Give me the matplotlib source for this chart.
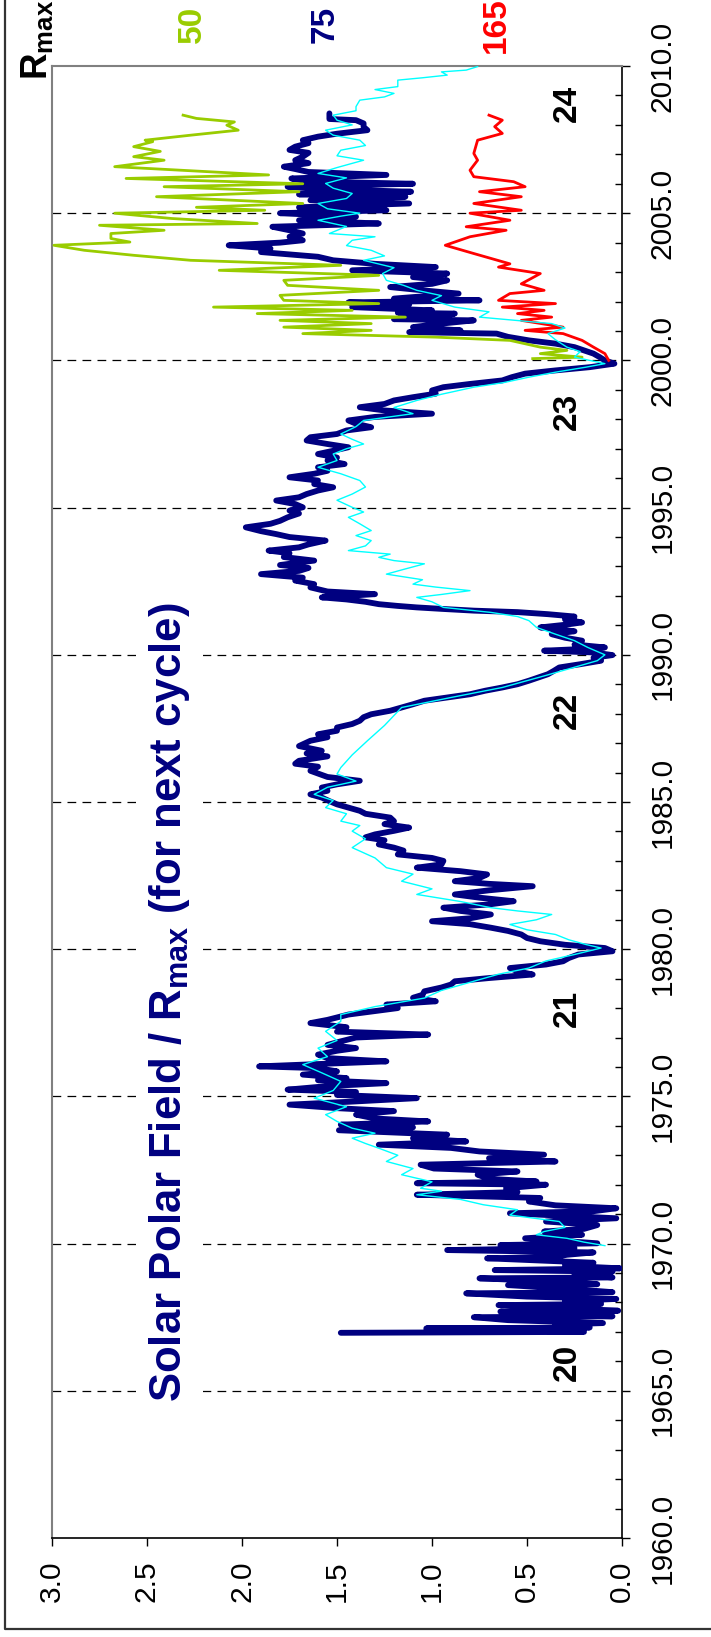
import matplotlib
matplotlib.use('Agg')
import matplotlib.pyplot as plt
from matplotlib.lines import Line2D

plt.rcParams['font.family'] = ['Liberation Sans', 'DejaVu Sans']
plt.rcParams['mathtext.fontset'] = 'custom'
plt.rcParams['mathtext.rm'] = 'Liberation Sans'
plt.rcParams['mathtext.bf'] = 'Liberation Sans:bold'
plt.rcParams['mathtext.it'] = 'Liberation Sans:italic'

# ---------------- data ----------------
navy_year = [1966.97, 1967.00, 1967.05, 1967.10, 1967.12, 1967.15, 1967.25, 1967.30, 1967.40, 1967.50,
             1967.53, 1967.60, 1967.69, 1967.72, 1967.80, 1967.91, 1967.95, 1968.05, 1968.12, 1968.20,
             1968.31, 1968.35, 1968.45, 1968.59, 1968.62, 1968.70, 1968.82, 1968.85, 1968.95, 1969.05,
             1969.10, 1969.16, 1969.25, 1969.35, 1969.50, 1969.55, 1969.62, 1969.70, 1969.78, 1969.85,
             1969.95, 1970.01,
             1970.18, 1970.30, 1970.41, 1970.50, 1970.63, 1970.75, 1970.86, 1971.03, 1971.10, 1971.20,
             1971.30, 1971.43, 1971.55, 1971.66, 1971.75, 1971.88, 1972.00, 1972.05, 1972.11, 1972.20,
             1972.34, 1972.45, 1972.55, 1972.68, 1972.79, 1972.90, 1973.02, 1973.13, 1973.25, 1973.36,
             1973.47, 1973.58, 1973.70, 1973.85, 1973.95, 1974.04, 1974.15, 1974.25, 1974.38, 1974.50,
             1974.60, 1974.72, 1974.83, 1974.94, 1975.05, 1975.15, 1975.23, 1975.35, 1975.45, 1975.55,
             1975.62, 1975.74, 1975.85, 1975.96, 1976.02, 1976.10, 1976.19, 1976.30, 1976.42, 1976.55,
             1976.64, 1976.75, 1976.87, 1977.00, 1977.10, 1977.20, 1977.35, 1977.49,
             1977.60, 1977.78, 1977.90, 1978.00, 1978.12, 1978.23, 1978.35, 1978.45, 1978.57, 1978.70,
             1978.80, 1978.91, 1979.02, 1979.14, 1979.25, 1979.36, 1979.48, 1979.59, 1979.70, 1979.82,
             1979.93, 1980.04, 1980.15, 1980.27, 1980.38, 1980.50, 1980.62, 1980.73, 1980.85, 1980.95,
             1981.05, 1981.18, 1981.30, 1981.41, 1981.52, 1981.63, 1981.75, 1981.86, 1982.00, 1982.14,
             1982.22, 1982.31, 1982.42, 1982.54, 1982.65, 1982.77, 1982.88, 1983.00, 1983.10, 1983.22,
             1983.35, 1983.45, 1983.56, 1983.70, 1983.80, 1983.90, 1984.02, 1984.13, 1984.25, 1984.35,
             1984.47, 1984.60, 1984.70, 1984.81, 1984.92, 1985.03, 1985.15, 1985.26, 1985.38, 1985.49,
             1985.60, 1985.72,
             1985.85, 1986.06, 1986.20, 1986.30, 1986.40, 1986.55, 1986.65, 1986.74, 1986.90, 1987.08,
             1987.20, 1987.30, 1987.42, 1987.53, 1987.65, 1987.76, 1987.88, 1987.98, 1988.10, 1988.21,
             1988.32, 1988.44, 1988.55, 1988.66, 1988.78, 1988.89, 1989.00, 1989.12, 1989.23, 1989.34,
             1989.45, 1989.57, 1989.68, 1989.80, 1989.90, 1989.99, 1990.08, 1990.14, 1990.20, 1990.25,
             1990.35, 1990.48, 1990.58, 1990.70, 1990.80, 1990.93, 1991.02, 1991.10, 1991.20, 1991.30,
             1991.38, 1991.45, 1991.50, 1991.56, 1991.61, 1991.66, 1991.72, 1991.80, 1991.88, 1991.95,
             1992.06, 1992.15, 1992.29, 1992.40, 1992.52, 1992.62, 1992.74, 1992.85, 1992.95, 1993.05,
             1993.20, 1993.32, 1993.45, 1993.54, 1993.65, 1993.75, 1993.88,
             1994.00, 1994.10, 1994.20, 1994.33, 1994.45, 1994.55, 1994.67, 1994.80, 1994.90, 1995.01,
             1995.12, 1995.24, 1995.35, 1995.46, 1995.58, 1995.69, 1995.80, 1995.92, 1996.03, 1996.15,
             1996.25, 1996.37, 1996.48, 1996.60, 1996.70, 1996.82, 1996.93, 1997.05, 1997.16, 1997.28,
             1997.39, 1997.50, 1997.62, 1997.73, 1997.85, 1997.96, 1998.08, 1998.19, 1998.30, 1998.41,
             1998.52, 1998.64, 1998.75, 1998.87, 1998.98, 1999.09, 1999.20, 1999.32, 1999.43, 1999.55,
             1999.66, 1999.77, 1999.89, 2000.00, 2000.12, 2000.23, 2000.34, 2000.45, 2000.57, 2000.68,
             2000.80, 2000.91, 2000.96, 2001.02, 2001.13, 2001.25, 2001.36, 2001.40, 2001.50, 2001.59,
             2001.62, 2001.70, 2001.81, 2001.90, 2001.97, 2002.04,
             2002.10, 2002.27, 2002.38, 2002.49, 2002.60, 2002.72, 2002.83, 2002.95, 2003.06, 2003.17,
             2003.28, 2003.40, 2003.52, 2003.68, 2003.80, 2003.91, 2004.00, 2004.08, 2004.20, 2004.31,
             2004.42, 2004.54, 2004.65, 2004.76, 2004.88, 2005.00, 2005.10, 2005.20, 2005.33, 2005.44,
             2005.56, 2005.64, 2005.73, 2005.82, 2005.90, 2006.00, 2006.08, 2006.18, 2006.30, 2006.40,
             2006.50, 2006.58, 2006.70, 2006.80, 2006.92, 2007.05, 2007.15, 2007.26, 2007.38, 2007.48,
             2007.60, 2007.70, 2007.82, 2007.93, 2008.05, 2008.16, 2008.20, 2008.39]
navy_val = [1.48, 0.20, 0.55, 0.25, 1.03, 0.17, 0.35, 0.10, 0.60, 0.78,
            0.05, 0.45, 0.64, 0.02, 0.30, 0.65, 0.11, 0.30, 0.03, 0.50,
            0.82, 0.05, 0.25, 0.60, 0.13, 0.30, 0.75, 0.05, 0.25, 0.05,
            0.67, 0.01, 0.30, 0.15, 0.71, 0.35, 0.29, 0.15, 0.92, 0.25,
            0.64, 0.13,
            0.51, 0.21, 0.41, 0.20, 0.13, 0.40, 0.03, 0.59, 0.15, 0.03,
            0.35, 0.49, 0.43, 1.08, 0.55, 0.61, 0.40, 1.08, 0.45, 0.70,
            0.76, 0.55, 0.99, 1.06, 0.35, 0.70, 0.41, 0.75, 0.90, 1.28,
            0.82, 1.10, 0.92, 1.49, 1.10, 1.48, 1.02, 1.30, 1.40, 1.20,
            1.50, 1.75, 1.40, 1.08, 1.50, 1.40, 1.76, 1.55, 1.24, 1.60,
            1.45, 1.68, 1.50, 1.60, 1.91, 1.60, 1.24, 1.55, 1.60, 1.50,
            1.40, 1.55, 1.48, 1.40, 1.02, 1.50, 1.45, 1.64,
            1.55, 1.44, 1.30, 1.18, 1.24, 0.98, 1.10, 1.05, 1.04, 0.95,
            0.90, 0.88, 0.70, 0.47, 0.55, 0.59, 0.40, 0.31, 0.28, 0.23,
            0.05, 0.09, 0.30, 0.43, 0.50, 0.53, 0.60, 0.69, 0.80, 1.00,
            0.80, 0.69, 0.85, 0.94, 0.70, 0.57, 0.75, 0.88, 0.70, 0.47,
            0.70, 0.88, 0.75, 0.71, 0.85, 1.08, 0.95, 0.94, 1.00, 1.18,
            1.15, 1.20, 1.28, 1.25, 1.35, 1.30, 1.20, 1.12, 1.25, 1.20,
            1.22, 1.35, 1.38, 1.44, 1.50, 1.54, 1.58, 1.64, 1.55, 1.58,
            1.50, 1.38,
            1.55, 1.64, 1.60, 1.72, 1.70, 1.55, 1.66, 1.58, 1.70, 1.64,
            1.55, 1.60, 1.50, 1.50, 1.42, 1.38, 1.36, 1.32, 1.22, 1.16,
            1.10, 1.04, 0.92, 0.80, 0.72, 0.63, 0.55, 0.49, 0.44, 0.39,
            0.36, 0.33, 0.22, 0.11, 0.15, 0.05, 0.15, 0.41, 0.20, 0.09,
            0.25, 0.21, 0.30, 0.37, 0.25, 0.43, 0.30, 0.21, 0.30, 0.25,
            0.39, 0.55, 0.78, 0.95, 1.08, 1.18, 1.28, 1.35, 1.45, 1.58,
            1.30, 1.55, 1.64, 1.62, 1.72, 1.68, 1.90, 1.70, 1.65, 1.80,
            1.62, 1.78, 1.75, 1.86, 1.70, 1.65, 1.56,
            1.75, 1.82, 1.90, 1.98, 1.85, 1.80, 1.76, 1.70, 1.75, 1.68,
            1.72, 1.82, 1.70, 1.66, 1.60, 1.52, 1.62, 1.60, 1.75, 1.62,
            1.55, 1.60, 1.46, 1.55, 1.50, 1.60, 1.52, 1.44, 1.55, 1.66,
            1.64, 1.50, 1.45, 1.32, 1.40, 1.44, 1.30, 1.00, 1.25, 1.38,
            1.25, 1.20, 1.10, 0.98, 1.00, 0.94, 0.80, 0.63, 0.58, 0.51,
            0.35, 0.17, 0.04, 0.09, 0.12, 0.15, 0.20, 0.25, 0.35, 0.49,
            0.60, 0.66, 1.12, 0.85, 1.10, 0.95, 0.78, 1.20, 0.95, 0.88,
            1.18, 1.00, 1.42, 1.12, 1.44, 0.75,
            1.20, 0.86, 1.05, 1.22, 1.00, 0.92, 1.10, 0.92, 1.42, 0.98,
            1.30, 1.52, 1.60, 1.90, 1.85, 2.07, 1.80, 1.68, 1.75, 1.68,
            1.75, 1.84, 1.28, 1.70, 1.40, 1.80, 1.24, 1.70, 1.12, 1.64,
            1.14, 1.70, 1.11, 1.60, 1.76, 1.10, 1.65, 1.74, 1.24, 1.65,
            1.72, 1.78, 1.65, 1.72, 1.68, 1.65, 1.75, 1.72, 1.65, 1.68,
            1.60, 1.50, 1.34, 1.36, 1.36, 1.40, 1.54, 1.54]

cyan_year = [1969.93, 1970.05, 1970.18, 1970.30, 1970.41, 1970.55, 1970.75, 1970.85, 1970.97, 1971.15,
             1971.32, 1971.50, 1971.66, 1971.78, 1971.88, 1972.10, 1972.34, 1972.55, 1972.79, 1973.00,
             1973.24, 1973.40, 1973.58, 1973.75, 1973.92, 1974.15, 1974.38, 1974.65, 1974.94, 1975.20,
             1975.51, 1975.80, 1976.08, 1976.35, 1976.64, 1976.90, 1977.21, 1977.55,
             1977.78, 1978.05, 1978.34, 1978.60, 1978.91, 1979.15, 1979.36, 1979.60, 1979.82, 1980.04,
             1980.16, 1980.32, 1980.50, 1980.66, 1980.84, 1981.00, 1981.18, 1981.30, 1981.41, 1981.62,
             1981.86, 1982.05, 1982.31, 1982.55, 1982.77, 1983.10, 1983.45, 1983.75, 1984.01, 1984.20,
             1984.35, 1984.60, 1984.81, 1985.05, 1985.26, 1985.50, 1985.71,
             1985.95, 1986.17, 1986.60, 1987.08, 1987.60, 1988.21, 1988.55, 1988.89, 1989.30, 1989.80,
             1990.00, 1990.25, 1990.48, 1990.70, 1990.93, 1991.16, 1991.30, 1991.44, 1991.61, 1991.80,
             1991.95, 1992.05, 1992.18, 1992.30, 1992.40, 1992.55, 1992.74, 1992.90, 1993.09, 1993.20,
             1993.31, 1993.42, 1993.54, 1993.70, 1993.88, 1994.05, 1994.22, 1994.45, 1994.67, 1994.85,
             1995.01, 1995.25, 1995.46, 1995.70, 1995.92, 1996.15, 1996.37, 1996.60, 1996.82, 1997.00,
             1997.16, 1997.32, 1997.50, 1997.75, 1997.96, 1998.19, 1998.40, 1998.64, 1998.85, 1999.09,
             1999.25, 1999.43, 1999.60, 1999.77, 1999.89, 2000.11, 2000.30, 2000.45, 2000.70, 2000.91,
             2001.10, 2001.25, 2001.47, 2001.65, 2001.81, 2002.04, 2002.20, 2002.38, 2002.55, 2002.72,
             2002.95, 2003.15, 2003.40, 2003.55, 2003.74, 2003.90, 2004.08, 2004.20, 2004.31, 2004.55,
             2004.76, 2004.90, 2005.00, 2005.15, 2005.33, 2005.50, 2005.67, 2005.85, 2006.01, 2006.20,
             2006.35, 2006.55, 2006.80, 2006.95, 2007.14, 2007.30, 2007.48, 2007.65, 2007.82, 2008.00,
             2008.16, 2008.33, 2008.48, 2008.62, 2008.84, 2008.95, 2009.07, 2009.20, 2009.30, 2009.52,
             2009.60, 2009.69, 2009.80, 2009.86, 2009.98]
cyan_val = [0.09, 0.20, 0.29, 0.45, 0.41, 0.30, 0.33, 0.45, 0.59, 0.55,
            0.73, 0.85, 1.08, 0.95, 1.06, 1.00, 1.16, 1.10, 1.24, 1.18,
            1.28, 1.35, 1.42, 1.30, 1.42, 1.50, 1.56, 1.45, 1.62, 1.52,
            1.48, 1.58, 1.68, 1.55, 1.60, 1.50, 1.56, 1.48,
            1.48, 1.30, 1.04, 0.95, 0.78, 0.65, 0.49, 0.40, 0.25, 0.11,
            0.19, 0.28, 0.35, 0.50, 0.59, 0.45, 0.37, 0.55, 0.69, 0.85,
            1.08, 1.00, 1.16, 1.10, 1.24, 1.30, 1.42, 1.35, 1.42, 1.38,
            1.48, 1.45, 1.56, 1.52, 1.62, 1.55, 1.40,
            1.50, 1.48, 1.42, 1.34, 1.25, 1.16, 0.90, 0.63, 0.40, 0.13,
            0.09, 0.18, 0.25, 0.35, 0.45, 0.49, 0.55, 0.69, 0.94, 1.00,
            1.08, 0.95, 0.80, 0.98, 1.10, 1.05, 1.24, 1.15, 1.04, 1.20,
            1.28, 1.22, 1.44, 1.35, 1.32, 1.40, 1.32, 1.38, 1.44, 1.36,
            1.42, 1.50, 1.42, 1.35, 1.38, 1.48, 1.60, 1.50, 1.52, 1.45,
            1.36, 1.42, 1.48, 1.40, 1.36, 1.10, 1.20, 1.08, 0.95, 0.78,
            0.62, 0.49, 0.35, 0.19, 0.09, 0.25, 0.22, 0.29, 0.35, 0.39,
            0.30, 0.37, 0.75, 0.70, 0.88, 1.00, 0.95, 1.08, 1.15, 1.24,
            1.26, 1.20, 1.36, 1.25, 1.32, 1.45, 1.42, 1.30, 1.54, 1.45,
            1.60, 1.48, 1.38, 1.55, 1.60, 1.45, 1.42, 1.52, 1.56, 1.45,
            1.60, 1.50, 1.36, 1.50, 1.48, 1.35, 1.38, 1.52, 1.56, 1.42,
            1.50, 1.52, 1.40, 1.40, 1.38, 1.25, 1.20, 1.30, 1.18, 1.18,
            1.05, 0.92, 0.95, 0.82, 0.76]

green_year = [2000.06, 2000.11, 2000.23, 2000.34, 2000.45, 2000.68, 2000.79, 2000.91, 2001.02, 2001.13,
              2001.25, 2001.36, 2001.47, 2001.59, 2001.70, 2001.81, 2001.93, 2002.04, 2002.21, 2002.38,
              2002.55, 2002.72, 2002.89, 2003.06, 2003.23, 2003.40, 2003.57, 2003.74, 2003.91, 2004.02,
              2004.14, 2004.31, 2004.42, 2004.59, 2004.65, 2004.82, 2005.00, 2005.10, 2005.20, 2005.33,
              2005.56, 2005.73, 2005.90, 2006.00, 2006.18, 2006.30, 2006.58, 2006.80, 2006.92, 2007.10,
              2007.26, 2007.43, 2007.48, 2007.65, 2007.82, 2007.99, 2008.10, 2008.22, 2008.33]
green_val = [0.47, 0.21, 0.43, 0.29, 0.43, 0.59, 0.98, 1.68, 1.32, 1.78,
             1.32, 1.80, 1.14, 1.92, 1.42, 2.15, 1.28, 1.78, 1.80, 1.28,
             1.76, 1.78, 1.28, 2.12, 1.48, 2.27, 2.57, 2.83, 2.99, 2.59,
             2.69, 2.69, 2.41, 2.75, 1.92, 2.37, 2.67, 1.88, 2.24, 1.68,
             2.45, 1.70, 2.41, 1.68, 2.61, 1.86, 2.67, 2.41, 2.57, 2.43,
             2.57, 2.47, 2.51, 2.27, 2.02, 2.08, 2.04, 2.24, 2.31]

red_year = [2000.00, 2000.23, 2000.45, 2000.68, 2000.91, 2001.02, 2001.13, 2001.36, 2001.47, 2001.59,
            2001.70, 2001.81, 2001.93, 2002.04, 2002.27, 2002.38, 2002.60, 2002.95, 2003.17, 2003.28,
            2003.63, 2003.91, 2004.20, 2004.42, 2004.54, 2004.76, 2005.00, 2005.10, 2005.33, 2005.56,
            2005.73, 2005.90, 2006.07, 2006.24, 2006.46, 2006.80, 2007.03, 2007.48, 2007.71, 2007.94,
            2008.16, 2008.33]
red_val = [0.07, 0.09, 0.15, 0.21, 0.31, 0.51, 0.31, 0.53, 0.37, 0.55,
           0.41, 0.63, 0.35, 0.65, 0.59, 0.41, 0.53, 0.43, 0.65, 0.59,
           0.78, 0.93, 0.80, 0.61, 0.82, 0.59, 0.80, 0.53, 0.78, 0.53,
           0.75, 0.51, 0.57, 0.78, 0.80, 0.76, 0.78, 0.76, 0.63, 0.67,
           0.63, 0.70]

dash_years = [1965, 1970, 1975, 1980, 1985, 1990, 1995, 2000, 2005]
value_ticks = [0.0, 0.5, 1.0, 1.5, 2.0, 2.5, 3.0]
year_ticks = [1960, 1965, 1970, 1975, 1980, 1985, 1990, 1995, 2000, 2005, 2010]

cycle_labels = ['20', '21', '22', '23', '24']
cycle_years = [1965.95, 1978.0, 1988.1, 1998.27, 2008.74]
cycle_value = 0.29

rmax_labels = ['50', '75', '165']
rmax_values = [2.26, 1.56, 0.66]
rmax_colors = ['#99CC00', '#000080', '#FF0000']

NAVY = '#000080'
CYAN = '#00FFFF'
GREEN = '#99CC00'
RED = '#FF0000'

# ---------------- figure ----------------
W, H = 711, 1637
fig = plt.figure(figsize=(W / 100, H / 100), dpi=100)
ax = fig.add_axes([52 / W, (H - 1538) / H, 570 / W, 1472 / H])
ax.set_xlim(3, 0)
ax.set_ylim(1960, 2010)

for yr in dash_years:
    ax.axhline(yr, color='black', lw=0.9, ls=(0, (7, 5)), zorder=1)

ax.plot(navy_val, navy_year, color=NAVY, lw=4.2, solid_joinstyle='round',
        solid_capstyle='round', zorder=3)
ax.plot(green_val, green_year, color=GREEN, lw=2.0, zorder=4)
ax.plot(red_val, red_year, color=RED, lw=2.0, zorder=4)
ax.plot(cyan_val, cyan_year, color=CYAN, lw=1.0, zorder=5)

# spines
for s in ['left', 'top']:
    ax.spines[s].set_color('#808080')
    ax.spines[s].set_linewidth(1.5)
for s in ['right', 'bottom']:
    ax.spines[s].set_color('black')
    ax.spines[s].set_linewidth(1.2)

# ticks
ax.yaxis.tick_right()
ax.set_yticks(year_ticks, labels=['%.1f' % y for y in year_ticks], rotation=90, va='center')
ax.set_yticks(list(range(1960, 2011)), minor=True)
ax.tick_params(axis='y', which='major', direction='out', length=6, width=1, pad=13,
               labelsize=21.5, right=True, left=False)
ax.tick_params(axis='y', which='minor', direction='in', length=5, width=1, right=True, left=False)

ax.set_xticks(value_ticks, labels=['%.1f' % v for v in value_ticks], rotation=90)
ax.tick_params(axis='x', which='major', direction='out', length=6, width=1, pad=10,
               labelsize=21.5)

# cycle numbers
for lab, yr in zip(cycle_labels, cycle_years):
    ax.text(cycle_value, yr, lab, rotation=90, ha='center', va='center', fontsize=24,
            fontweight='bold', color='black', zorder=6)

# Rmax labels above plot
for lab, v, c in zip(rmax_labels, rmax_values, rmax_colors):
    ax.text(v, 2011.4, lab, rotation=90, ha='center', va='center', fontsize=24,
            fontweight='bold', color=c, clip_on=False)

# title
ax.text(2.38, 1978.2, r'Solar Polar Field / R$_{\mathbf{max}}$ (for next cycle)', rotation=90,
        ha='center', va='center', fontsize=31.5, fontweight='bold', color=NAVY, zorder=6,
        bbox=dict(facecolor='white', edgecolor='none', pad=8))

# R_max header
fig.text(37 / W, 1 - 40 / H, r'R$_{\mathbf{max}}$', rotation=90, ha='center', va='center',
         fontsize=26.5, fontweight='bold', color='black')

# outer border (left and bottom edges visible)
fig.add_artist(Line2D([5 / W, 5 / W, 1.0], [1.0, (H - 1629) / H, (H - 1629) / H],
                      transform=fig.transFigure, color='#333333', lw=1.6))

fig.savefig('out.png', dpi=100)
